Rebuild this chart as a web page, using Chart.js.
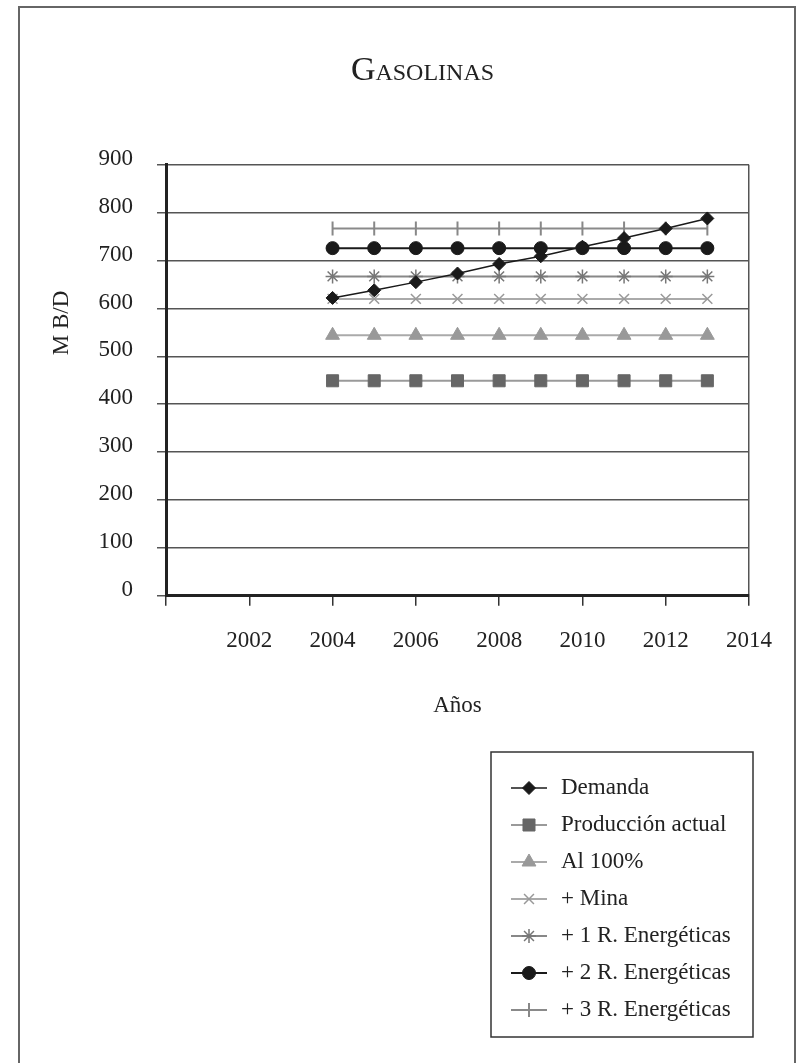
<!DOCTYPE html>
<html>
<head>
<meta charset="utf-8">
<script src="https://cdn.jsdelivr.net/npm/chart.js@4.4.0/dist/chart.umd.min.js"></script>
<style>
  html, body { margin: 0; padding: 0; background: #fff; overflow: hidden; }
  .wrap { position: relative; width: 801px; height: 1063px; }
  .frame { position: absolute; left: 18px; top: 6px; width: 778px; height: 1200px; border: 2px solid #666; box-sizing: border-box; }
  canvas { position: absolute; left: 0; top: 0; }
</style>
</head>
<body>
<div class="wrap">
  <div class="frame"></div>
  <canvas class="chart" width="801" height="1063"></canvas>
</div>
<script>
const years = [2004, 2005, 2006, 2007, 2008, 2009, 2010, 2011, 2012, 2013];
const demanda = [622, 638, 655, 673, 693, 709, 729, 747, 767, 788];
const produccion = [449, 449, 449, 449, 449, 449, 449, 449, 449, 449];
const al100 = [544, 544, 544, 544, 544, 544, 544, 544, 544, 544];
const mina = [620, 620, 620, 620, 620, 620, 620, 620, 620, 620];
const r1 = [667, 667, 667, 667, 667, 667, 667, 667, 667, 667];
const r2 = [726, 726, 726, 726, 726, 726, 726, 726, 726, 726];
const r3 = [767, 767, 767, 767, 767, 767, 767, 767, 767, 767];
const xTicks = [2000, 2002, 2004, 2006, 2008, 2010, 2012, 2014];
const yTicks = [0, 100, 200, 300, 400, 500, 600, 700, 800, 900];

const FONT = "'Liberation Serif', serif";
const toPoints = (vals) => vals.map((v, i) => ({ x: years[i], y: v }));

const makeSet = (label, vals, style) => ({
  label: label,
  data: toPoints(vals),
  borderColor: style.line,
  borderWidth: style.lineWidth || 2,
  pointStyle: style.point,
  pointRadius: style.radius,
  pointRotation: style.rotation || 0,
  pointBackgroundColor: style.fill || style.mark,
  pointBorderColor: style.mark,
  pointBorderWidth: style.markWidth || 1,
  tension: 0,
});

// legend + y title drawn by hand
const extraText = {
  id: "extraText",
  afterDraw(chart) {
    const ctx = chart.ctx;
    ctx.save();
    ctx.font = "23px " + FONT;
    ctx.fillStyle = "#222";
    ctx.translate(62, 323);
    ctx.rotate(-Math.PI / 2);
    ctx.textAlign = "center";
    ctx.textBaseline = "middle";
    ctx.fillText("M B/D", 0, 0);
    ctx.restore();

    ctx.save();
    ctx.strokeStyle = "#333";
    ctx.lineWidth = 1.5;
    ctx.strokeRect(491, 752, 262, 285);
    chart.data.datasets.forEach((ds, i) => {
      const y = 788 + i * 37;
      ctx.strokeStyle = ds.borderColor;
      ctx.lineWidth = ds.borderWidth;
      ctx.beginPath();
      ctx.moveTo(511, y);
      ctx.lineTo(547, y);
      ctx.stroke();
      ctx.fillStyle = ds.pointBackgroundColor;
      ctx.strokeStyle = ds.pointBorderColor;
      ctx.lineWidth = ds.pointBorderWidth;
      Chart.helpers.drawPoint(ctx, {
        pointStyle: ds.pointStyle,
        radius: ds.pointRadius,
        rotation: ds.pointRotation,
        borderWidth: ds.pointBorderWidth,
      }, 529, y);
      ctx.fillStyle = "#222";
      ctx.font = "23px " + FONT;
      ctx.textAlign = "left";
      ctx.textBaseline = "middle";
      ctx.fillText(ds.label, 561, y);
    });
    ctx.restore();
  },
};

const ctx = document.querySelector(".chart");
const myChart = new Chart(ctx, {
  type: "line",
  data: {
    datasets: [
      makeSet("Demanda", demanda, { line: "#1a1a1a", lineWidth: 1.5, point: "rectRot", radius: 6.5, mark: "#1a1a1a" }),
      makeSet("Producción actual", produccion, { line: "#9a9a9a", point: "rect", radius: 8.5, mark: "#666" }),
      makeSet("Al 100%", al100, { line: "#aaa", point: "triangle", radius: 8, mark: "#999" }),
      makeSet("+ Mina", mina, { line: "#aaa", point: "crossRot", radius: 7, mark: "#999", markWidth: 1.5 }),
      makeSet("+ 1 R. Energéticas", r1, { line: "#888", point: "star", radius: 7, mark: "#777", markWidth: 1.5 }),
      makeSet("+ 2 R. Energéticas", r2, { line: "#1a1a1a", point: "circle", radius: 6.5, mark: "#1a1a1a" }),
      makeSet("+ 3 R. Energéticas", r3, { line: "#8a8a8a", point: "line", rotation: 90, radius: 7, mark: "#888", markWidth: 2 }),
    ],
  },
  options: {
    responsive: false,
    animation: false,
    layout: { padding: { left: 96, right: 52, top: 0, bottom: 343 } },
    plugins: {
      legend: { display: false },
      tooltip: { enabled: false },
      title: {
        display: true,
        text: "Gasolinas",
        color: "#222",
        font: { family: FONT, size: 34, weight: "small-caps" },
        padding: { top: 51, bottom: 73 },
      },
    },
    scales: {
      x: {
        type: "linear",
        min: xTicks[0],
        max: xTicks[xTicks.length - 1],
        afterBuildTicks: (scale) => { scale.ticks = xTicks.map((v) => ({ value: v })); },
        ticks: {
          padding: 21,
          color: "#222",
          font: { family: FONT, size: 23 },
          maxRotation: 0,
          autoSkip: false,
          callback: (v) => (v === 2000 ? "" : String(v)),
        },
        grid: {
          color: (c) => (c.tick && c.tick.value === 2014 ? "#555" : "rgba(0,0,0,0)"),
          lineWidth: 1.5,
          tickColor: "#333",
          tickWidth: 1.5,
          tickLength: 10,
        },
        border: { color: "#222", width: 3 },
        title: {
          display: true,
          text: "Años",
          color: "#222",
          font: { family: FONT, size: 23 },
          padding: { top: 17, bottom: 0 },
        },
      },
      y: {
        min: yTicks[0],
        max: yTicks[yTicks.length - 1],
        afterBuildTicks: (scale) => { scale.ticks = yTicks.map((v) => ({ value: v })); },
        afterFit: (scale) => { scale.width = 70; },
        ticks: {
          padding: 24,
          labelOffset: -6,
          color: "#222",
          font: { family: FONT, size: 23 },
          callback: (v) => String(v),
        },
        grid: {
          color: "#555",
          lineWidth: 1.5,
          tickColor: "#555",
          tickWidth: 1.5,
          tickLength: 9,
        },
        border: { color: "#222", width: 3 },
      },
    },
  },
  plugins: [extraText],
});
</script>
</body>
</html>
